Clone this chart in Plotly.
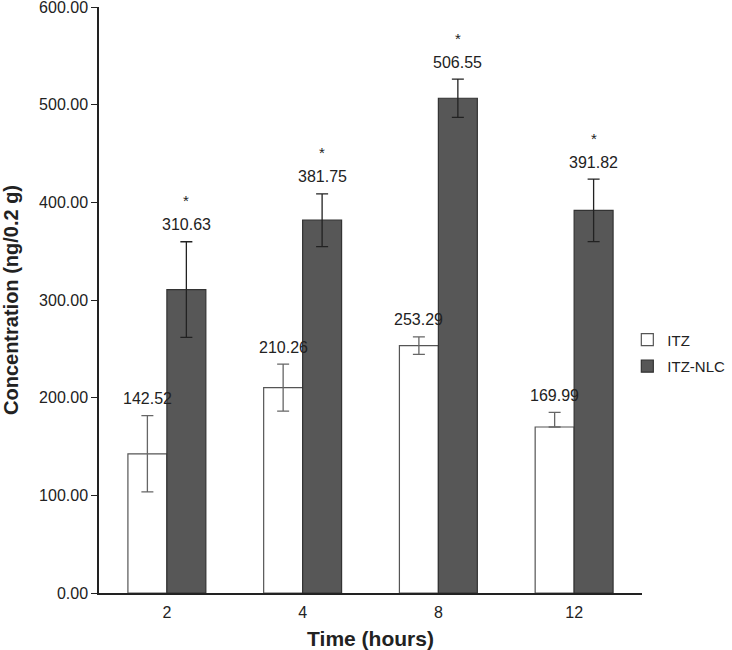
import plotly.graph_objects as go

times = ["2", "4", "8", "12"]
itz = [142.52, 210.26, 253.29, 169.99]
itz_err_plus = [39, 24, 9, 15]
itz_err_minus = [39, 24, 9, 0]
nlc = [310.63, 381.75, 506.55, 391.82]
nlc_err = [49, 27, 19.5, 32]
marks = ["*", "*", "*", "*"]

font = "Liberation Sans, Arial, sans-serif"

fig = go.Figure()
fig.add_trace(go.Bar(
    x=times, y=itz, name="ITZ", legendgroup="a",
    marker=dict(color="white", line=dict(color="#555555", width=1.2)),
    error_y=dict(type="data", array=itz_err_plus, arrayminus=itz_err_minus,
                 symmetric=False, color="#666666", thickness=1.3, width=6),
))
fig.add_trace(go.Bar(
    x=times, y=nlc, name="ITZ-NLC", legendgroup="b",
    marker=dict(color="#575757", line=dict(color="#333333", width=1.2)),
    error_y=dict(type="data", array=nlc_err, color="#222222", thickness=1.3, width=6),
))

# value labels above the error bars, asterisks above the NLC labels
# (annotations on a category axis take the category index)
for i, (v, e) in enumerate(zip(itz, itz_err_plus)):
    fig.add_annotation(x=i, y=v + e, xref="x", yref="y", xshift=-19.5, yshift=17,
                       text=f"{v:.2f}", showarrow=False, yanchor="middle",
                       font=dict(family=font, size=16, color="#222222"))
for i, (v, e, m) in enumerate(zip(nlc, nlc_err, marks)):
    fig.add_annotation(x=i, y=v + e, xref="x", yref="y", xshift=19.5, yshift=17,
                       text=f"{v:.2f}", showarrow=False, yanchor="middle",
                       font=dict(family=font, size=16, color="#222222"))
    fig.add_annotation(x=i, y=v + e, xref="x", yref="y", xshift=19.5, yshift=41,
                       text=m, showarrow=False, yanchor="middle",
                       font=dict(family=font, size=15, color="#222222"))

fig.update_layout(
    autosize=False, width=732, height=650,
    margin=dict(l=99, r=90, t=7, b=57, autoexpand=False),
    paper_bgcolor="white", plot_bgcolor="white",
    barmode="group", bargap=0.426, bargroupgap=0,
    font=dict(family=font, size=16, color="#222222"),
    legend=dict(xref="container", yref="container", x=0.857, y=0.457,
                xanchor="left", yanchor="middle",
                font=dict(size=15), tracegroupgap=4, itemwidth=30),
    xaxis=dict(
        type="category", range=[-0.5, 3.5], automargin=False,
        showline=True, linecolor="#222222", linewidth=1.5,
        ticks="", showgrid=False, tickfont=dict(size=16), ticklabelstandoff=4,
        title=dict(text="<b>Time (hours)</b>", font=dict(size=21), standoff=16),
    ),
    yaxis=dict(
        range=[0, 600], dtick=100, tickformat=".2f", automargin=False,
        showline=True, linecolor="#222222", linewidth=1.5,
        ticks="outside", ticklen=6, tickcolor="#222222", showgrid=False,
        zeroline=False, tickfont=dict(size=16), ticklabeloverflow="allow",
        title=dict(text="<b>Concentration (ng/0.2 g)</b>", font=dict(size=20), standoff=22),
    ),
)

# drop the page's default body margin so the figure sits at the window's corner
fig.write_html("out.html", config={"displayModeBar": False},
               post_script="document.body.style.margin = '0';")
